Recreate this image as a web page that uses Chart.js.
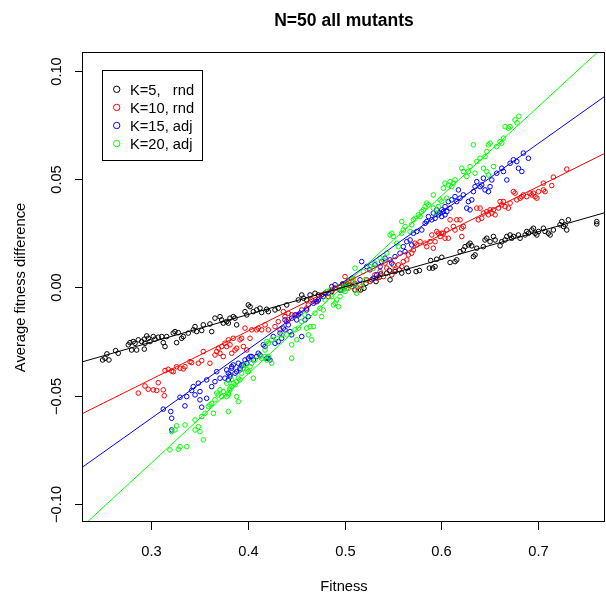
<!DOCTYPE html>
<html lang="en">
<head>
    <meta charset="UTF-8">
    <title>N=50 all mutants</title>
    <style>
        body { margin: 0; background: #fff; }
        canvas { display: block; }
    </style>
    <script src="https://cdn.jsdelivr.net/npm/chart.js@4.4.1/dist/chart.umd.min.js"></script>
</head>
<body>
    <canvas id="fitChart" width="606" height="599"></canvas>

    <script>
        // axis ranges and ticks
        const xMin = 0.2298, xMax = 0.7689;
        const yMin = -0.1083, yMax = 0.1082;
        const xTicks = [0.3, 0.4, 0.5, 0.6, 0.7];
        const xTickLabels = ['0.3', '0.4', '0.5', '0.6', '0.7'];
        const yTicks = [-0.10, -0.05, 0.00, 0.05, 0.10];
        const yTickLabels = ['\u22120.10', '\u22120.05', '0.00', '0.05', '0.10'];

        const seriesLabels = ['K=5,   rnd', 'K=10, rnd', 'K=15, adj', 'K=20, adj'];
        const seriesColors = ['#000000', '#ff0000', '#0000ff', '#00ff00'];

        // fitted lines y = a + b*x
        const fitIntercept = [-0.0636, -0.1093, -0.1557, -0.2047];
        const fitSlope = [0.1276, 0.2227, 0.3173, 0.4116];

        // [fitness, average fitness difference]
        const k5 = [
            [0.2500,-0.0335],[0.2525,-0.0327],[0.2566,-0.0335],[0.2545,-0.0307],[0.2635,-0.0292],[0.2662,-0.0304],
            [0.2766,-0.0265],[0.2783,-0.0255],[0.2817,-0.0250],[0.2835,-0.0258],[0.2800,-0.0289],[0.2852,-0.0289],
            [0.2869,-0.0242],[0.2904,-0.0250],[0.2931,-0.0239],[0.2938,-0.0258],[0.2956,-0.0224],[0.2972,-0.0235],
            [0.2990,-0.0250],[0.2931,-0.0285],[0.3024,-0.0227],[0.3041,-0.0239],[0.3075,-0.0230],[0.3111,-0.0227],
            [0.3127,-0.0255],[0.3145,-0.0273],[0.3162,-0.0227],[0.3230,-0.0211],[0.3248,-0.0204],[0.3282,-0.0209],
            [0.3265,-0.0255],[0.3317,-0.0235],[0.3334,-0.0227],[0.3385,-0.0211],[0.3437,-0.0196],[0.3455,-0.0181],
            [0.3472,-0.0204],[0.3524,-0.0199],[0.3540,-0.0173],[0.3609,-0.0169],[0.3627,-0.0204],[0.3661,-0.0142],
            [0.3713,-0.0135],[0.3730,-0.0150],[0.3747,-0.0165],[0.3782,-0.0158],[0.3816,-0.0142],[0.3850,-0.0135],
            [0.3799,-0.0165],[0.3868,-0.0142],[0.3885,-0.0173],[0.3971,-0.0112],[0.3989,-0.0127],[0.4005,-0.0081],
            [0.4023,-0.0089],[0.4057,-0.0112],[0.4092,-0.0104],[0.4126,-0.0096],[0.4143,-0.0116],[0.4195,-0.0101],
            [0.4212,-0.0112],[0.4281,-0.0104],[0.4315,-0.0096],[0.4402,-0.0081],[0.4522,-0.0058],[0.4557,-0.0035],
            [0.4574,-0.0050],[0.4608,-0.0058],[0.4643,-0.0035],[0.4694,-0.0027],[0.4728,-0.0035],[0.4780,-0.0042],
            [0.4798,-0.0027],[0.4867,-0.0019],[0.4901,-0.0004],[0.4953,-0.0012],[0.4987,0.0012],[0.5022,0.0019],
            [0.4980,0.0016],[0.5056,0.0012],[0.5107,-0.0012],[0.5166,-0.0012],[0.5200,-0.0004],[0.5221,0.0019],
            [0.5280,0.0035],[0.5324,0.0027],[0.5359,0.0047],[0.5373,0.0062],[0.5435,0.0066],[0.5469,0.0035],
            [0.5462,0.0078],[0.5521,0.0073],[0.5565,0.0081],[0.5590,0.0066],[0.5642,0.0089],[0.5658,0.0073],
            [0.5738,0.0073],[0.5772,0.0078],[0.5875,0.0089],[0.5910,0.0089],[0.5889,0.0124],[0.5951,0.0130],
            [0.6003,0.0139],[0.5934,0.0096],[0.6089,0.0115],[0.6140,0.0119],[0.6158,0.0127],[0.6192,0.0165],
            [0.6226,0.0173],[0.6244,0.0188],[0.6278,0.0196],[0.6295,0.0204],[0.6313,0.0192],[0.6330,0.0142],
            [0.6347,0.0150],[0.6365,0.0181],[0.6433,0.0188],[0.6450,0.0219],[0.6468,0.0227],[0.6502,0.0211],
            [0.6537,0.0235],[0.6554,0.0219],[0.6605,0.0192],[0.6623,0.0211],[0.6657,0.0219],[0.6675,0.0235],
            [0.6709,0.0242],[0.6726,0.0227],[0.6743,0.0235],[0.6795,0.0242],[0.6812,0.0227],[0.6864,0.0242],
            [0.6881,0.0258],[0.6898,0.0250],[0.6933,0.0265],[0.6950,0.0273],[0.6967,0.0250],[0.6985,0.0242],
            [0.7002,0.0258],[0.7053,0.0273],[0.7070,0.0258],[0.7104,0.0250],[0.7122,0.0242],[0.7156,0.0265],
            [0.7225,0.0289],[0.7243,0.0304],[0.7260,0.0281],[0.7277,0.0289],[0.7294,0.0265],[0.7311,0.0312],
            [0.7604,0.0304],[0.7604,0.0293]
        ];
        const k10 = [
            [0.2869,-0.0488],[0.2938,-0.0455],[0.2972,-0.0470],[0.3024,-0.0473],[0.3059,-0.0476],[0.3075,-0.0440],
            [0.3127,-0.0473],[0.3137,-0.0500],[0.3145,-0.0384],[0.3179,-0.0378],[0.3214,-0.0386],[0.3230,-0.0389],
            [0.3265,-0.0366],[0.3300,-0.0373],[0.3334,-0.0376],[0.3351,-0.0366],[0.3403,-0.0343],[0.3420,-0.0347],
            [0.3489,-0.0350],[0.3524,-0.0338],[0.3540,-0.0296],[0.3609,-0.0350],[0.3661,-0.0312],[0.3679,-0.0296],
            [0.3696,-0.0281],[0.3713,-0.0304],[0.3747,-0.0319],[0.3730,-0.0273],[0.3764,-0.0258],[0.3799,-0.0242],
            [0.3834,-0.0304],[0.3816,-0.0265],[0.3850,-0.0235],[0.3782,-0.0273],[0.3868,-0.0289],[0.3885,-0.0281],
            [0.3919,-0.0242],[0.3937,-0.0235],[0.3971,-0.0188],[0.3954,-0.0273],[0.3989,-0.0289],[0.4023,-0.0235],
            [0.4040,-0.0196],[0.4092,-0.0196],[0.4108,-0.0188],[0.4143,-0.0196],[0.4178,-0.0173],[0.4212,-0.0196],
            [0.4281,-0.0181],[0.4315,-0.0158],[0.4333,-0.0196],[0.4367,-0.0112],[0.4384,-0.0135],[0.4402,-0.0158],
            [0.4418,-0.0150],[0.4418,-0.0119],[0.4453,-0.0127],[0.4505,-0.0127],[0.4557,-0.0104],[0.4608,-0.0096],
            [0.4625,-0.0081],[0.4660,-0.0058],[0.4694,-0.0066],[0.4728,-0.0058],[0.4763,-0.0035],[0.4798,-0.0027],
            [0.4832,-0.0042],[0.4867,-0.0012],[0.4901,-0.0004],[0.4953,0.0004],[0.5004,0.0050],[0.5039,0.0027],
            [0.5074,0.0042],[0.5022,-0.0004],[0.5039,0.0012],[0.5074,0.0004],[0.5107,0.0019],[0.5142,-0.0012],
            [0.5159,0.0012],[0.5228,0.0035],[0.5262,0.0027],[0.5314,0.0058],[0.5332,0.0042],[0.5366,0.0073],
            [0.5400,0.0050],[0.5417,0.0112],[0.5435,0.0089],[0.5487,0.0058],[0.5503,0.0104],[0.5521,0.0081],
            [0.5555,0.0104],[0.5590,0.0096],[0.5606,0.0119],[0.5642,0.0127],[0.5658,0.0150],[0.5693,0.0158],
            [0.5710,0.0173],[0.5727,0.0204],[0.5745,0.0196],[0.5779,0.0211],[0.5831,0.0204],[0.5848,0.0188],
            [0.5882,0.0211],[0.5900,0.0242],[0.5951,0.0258],[0.5986,0.0235],[0.6020,0.0250],[0.6037,0.0227],
            [0.6055,0.0265],[0.5934,0.0211],[0.5916,0.0181],[0.5968,0.0250],[0.6003,0.0250],[0.6071,0.0227],
            [0.6089,0.0312],[0.6123,0.0281],[0.6140,0.0265],[0.6158,0.0312],[0.6192,0.0312],[0.6210,0.0235],
            [0.6210,0.0273],[0.6226,0.0281],[0.6365,0.0366],[0.6399,0.0366],[0.6381,0.0312],[0.6416,0.0319],
            [0.6433,0.0343],[0.6468,0.0350],[0.6485,0.0335],[0.6502,0.0358],[0.6520,0.0343],[0.6537,0.0358],
            [0.6554,0.0335],[0.6589,0.0366],[0.6605,0.0396],[0.6623,0.0381],[0.6640,0.0396],[0.6657,0.0373],
            [0.6691,0.0366],[0.6709,0.0389],[0.6743,0.0442],[0.6760,0.0435],[0.6778,0.0404],[0.6812,0.0412],
            [0.6830,0.0419],[0.6846,0.0427],[0.6881,0.0419],[0.6915,0.0435],[0.6933,0.0427],[0.6967,0.0419],
            [0.6985,0.0412],[0.7002,0.0442],[0.6950,0.0435],[0.7053,0.0481],[0.7053,0.0450],[0.7070,0.0442],
            [0.7139,0.0470],[0.7156,0.0509],[0.7294,0.0546]
        ];
        const k15 = [
            [0.3127,-0.0562],[0.3204,-0.0573],[0.3214,-0.0604],[0.3214,-0.0658],[0.3300,-0.0507],[0.3351,-0.0547],
            [0.3369,-0.0504],[0.3420,-0.0476],[0.3437,-0.0458],[0.3455,-0.0496],[0.3489,-0.0442],[0.3506,-0.0481],
            [0.3524,-0.0553],[0.3506,-0.0519],[0.3575,-0.0427],[0.3575,-0.0512],[0.3627,-0.0458],[0.3661,-0.0435],
            [0.3679,-0.0389],[0.3713,-0.0419],[0.3764,-0.0419],[0.3799,-0.0427],[0.3816,-0.0404],[0.3834,-0.0373],
            [0.3850,-0.0358],[0.3885,-0.0389],[0.3919,-0.0381],[0.3937,-0.0358],[0.3989,-0.0350],[0.4023,-0.0319],
            [0.4057,-0.0335],[0.4092,-0.0319],[0.4126,-0.0312],[0.4160,-0.0265],[0.4195,-0.0327],[0.4229,-0.0335],
            [0.4263,-0.0227],[0.4281,-0.0258],[0.4333,-0.0211],[0.4367,-0.0188],[0.4384,-0.0150],[0.4418,-0.0173],
            [0.4453,-0.0142],[0.4488,-0.0127],[0.4505,-0.0150],[0.4557,-0.0227],[0.4539,-0.0119],[0.4608,-0.0104],
            [0.4677,-0.0073],[0.4712,-0.0066],[0.3782,-0.0381],[0.3799,-0.0396],[0.3816,-0.0412],[0.3834,-0.0366],
            [0.3868,-0.0396],[0.3902,-0.0350],[0.3919,-0.0373],[0.3954,-0.0358],[0.3971,-0.0335],[0.4005,-0.0327],
            [0.4040,-0.0319],[0.4108,-0.0304],[0.4178,-0.0273],[0.4212,-0.0327],[0.4315,-0.0250],[0.4350,-0.0235],
            [0.4384,-0.0196],[0.4436,-0.0204],[0.4453,-0.0219],[0.4522,-0.0127],[0.4591,-0.0150],[0.4625,-0.0135],
            [0.4728,-0.0058],[0.4780,-0.0042],[0.4832,-0.0027],[0.4867,0.0004],[0.4901,0.0012],[0.4970,-0.0012],
            [0.5004,0.0004],[0.5022,0.0019],[0.5107,0.0012],[0.5159,0.0035],[0.5176,0.0119],[0.5228,0.0096],
            [0.5262,0.0081],[0.5296,0.0042],[0.5314,0.0104],[0.5332,0.0058],[0.5366,0.0096],[0.5383,0.0119],
            [0.5417,0.0135],[0.5469,0.0127],[0.5487,0.0112],[0.5521,0.0142],[0.5572,0.0158],[0.5606,0.0188],
            [0.5624,0.0165],[0.5642,0.0211],[0.5676,0.0219],[0.5693,0.0196],[0.5710,0.0250],[0.5745,0.0258],
            [0.5797,0.0265],[0.5831,0.0296],[0.5848,0.0304],[0.5865,0.0327],[0.5900,0.0312],[0.5916,0.0343],
            [0.5934,0.0319],[0.5986,0.0343],[0.6003,0.0358],[0.6037,0.0335],[0.6055,0.0350],[0.5951,0.0358],
            [0.5968,0.0335],[0.6003,0.0327],[0.6020,0.0350],[0.6037,0.0373],[0.6071,0.0396],[0.6089,0.0366],
            [0.6106,0.0404],[0.6140,0.0419],[0.6158,0.0396],[0.6175,0.0450],[0.6192,0.0412],[0.6226,0.0427],
            [0.6261,0.0366],[0.6278,0.0396],[0.6295,0.0358],[0.6313,0.0404],[0.6330,0.0442],[0.6347,0.0465],
            [0.6365,0.0488],[0.6399,0.0465],[0.6416,0.0473],[0.6433,0.0504],[0.6450,0.0450],[0.6485,0.0442],
            [0.6502,0.0465],[0.6520,0.0496],[0.6571,0.0527],[0.6623,0.0550],[0.6640,0.0535],[0.6675,0.0496],
            [0.6709,0.0573],[0.6743,0.0589],[0.6778,0.0581],[0.6795,0.0550],[0.6830,0.0535],[0.6846,0.0620],
            [0.6898,0.0596]
        ];
        const k20 = [
            [0.3196,-0.0750],[0.3282,-0.0747],[0.3300,-0.0735],[0.3369,-0.0735],[0.3214,-0.0666],[0.3248,-0.0658],
            [0.3351,-0.0635],[0.3265,-0.0639],[0.3455,-0.0612],[0.3455,-0.0658],[0.3489,-0.0643],[0.3506,-0.0666],
            [0.3524,-0.0596],[0.3540,-0.0704],[0.3558,-0.0581],[0.3592,-0.0550],[0.3609,-0.0542],[0.3627,-0.0535],
            [0.3644,-0.0581],[0.3661,-0.0519],[0.3679,-0.0488],[0.3696,-0.0496],[0.3713,-0.0473],[0.3730,-0.0504],
            [0.3747,-0.0481],[0.3782,-0.0442],[0.3799,-0.0496],[0.3816,-0.0473],[0.3834,-0.0427],[0.3782,-0.0504],
            [0.3799,-0.0488],[0.3816,-0.0465],[0.3834,-0.0458],[0.3850,-0.0442],[0.3868,-0.0450],[0.3885,-0.0435],
            [0.3902,-0.0419],[0.3919,-0.0427],[0.3885,-0.0504],[0.3902,-0.0527],[0.3799,-0.0573],[0.3937,-0.0396],
            [0.3954,-0.0373],[0.3971,-0.0358],[0.3989,-0.0381],[0.4005,-0.0389],[0.4023,-0.0366],[0.4057,-0.0419],
            [0.4040,-0.0350],[0.4074,-0.0335],[0.4126,-0.0319],[0.4143,-0.0327],[0.4178,-0.0319],[0.4195,-0.0335],
            [0.4212,-0.0319],[0.4247,-0.0350],[0.4178,-0.0289],[0.4195,-0.0250],[0.4212,-0.0258],[0.4247,-0.0242],
            [0.4299,-0.0235],[0.4350,-0.0219],[0.4402,-0.0219],[0.4453,-0.0327],[0.4453,-0.0265],[0.4488,-0.0196],
            [0.4505,-0.0242],[0.4522,-0.0188],[0.4557,-0.0158],[0.4591,-0.0127],[0.4608,-0.0188],[0.4625,-0.0219],
            [0.4643,-0.0181],[0.4660,-0.0242],[0.4677,-0.0181],[0.4694,-0.0119],[0.4746,-0.0096],[0.4763,-0.0135],
            [0.4780,-0.0104],[0.4798,-0.0058],[0.4815,-0.0019],[0.4849,-0.0012],[0.4867,-0.0042],[0.4884,-0.0081],
            [0.4901,-0.0073],[0.4918,-0.0058],[0.4936,-0.0089],[0.4953,-0.0042],[0.4953,0.0004],[0.4987,-0.0012],
            [0.5022,0.0019],[0.5056,0.0035],[0.5090,0.0042],[0.5107,0.0089],[0.4970,-0.0012],[0.5004,-0.0019],
            [0.5039,-0.0004],[0.5107,0.0012],[0.5125,-0.0027],[0.5176,0.0004],[0.5211,0.0035],[0.5193,0.0073],
            [0.5262,0.0096],[0.5296,0.0089],[0.5314,0.0112],[0.5366,0.0135],[0.5400,0.0127],[0.5435,0.0158],
            [0.5469,0.0242],[0.5487,0.0250],[0.5503,0.0235],[0.5538,0.0204],[0.5555,0.0188],[0.5590,0.0250],
            [0.5590,0.0304],[0.5606,0.0265],[0.5624,0.0281],[0.5676,0.0258],[0.5693,0.0289],[0.5710,0.0312],
            [0.5727,0.0319],[0.5762,0.0335],[0.5779,0.0327],[0.5797,0.0350],[0.5813,0.0358],[0.5831,0.0373],
            [0.5848,0.0389],[0.5865,0.0381],[0.5916,0.0366],[0.5986,0.0404],[0.5916,0.0427],[0.5951,0.0343],
            [0.5968,0.0373],[0.6003,0.0396],[0.6020,0.0458],[0.6037,0.0481],[0.6055,0.0412],[0.6071,0.0473],
            [0.6089,0.0488],[0.6106,0.0465],[0.6123,0.0481],[0.6140,0.0496],[0.6210,0.0550],[0.6226,0.0535],
            [0.6261,0.0512],[0.6278,0.0535],[0.6295,0.0558],[0.6347,0.0527],[0.6365,0.0581],[0.6399,0.0596],
            [0.6433,0.0550],[0.6468,0.0535],[0.6485,0.0519],[0.6450,0.0604],[0.6468,0.0627],[0.6485,0.0658],
            [0.6502,0.0666],[0.6537,0.0558],[0.6571,0.0650],[0.6605,0.0673],[0.6623,0.0666],[0.6640,0.0689],
            [0.6657,0.0742],[0.6691,0.0735],[0.6709,0.0742],[0.6760,0.0773],[0.6330,0.0658],[0.6780,0.0760],
            [0.6800,0.0790]
        ];
        const seriesData = [k5, k10, k15, k20];

        const tickFont = '14.7px "Liberation Sans", Arial, sans-serif';

        // R-style box, axes, titles and legend
        const rStyle = {
            id: 'rStyle',
            afterDraw(chart) {
                const { ctx, chartArea: a, scales: { x, y } } = chart;
                ctx.save();
                ctx.strokeStyle = '#000';
                ctx.fillStyle = '#000';
                ctx.lineWidth = 1;
                ctx.strokeRect(a.left - 0.5, a.top - 0.5, a.right - a.left, a.bottom - a.top);

                ctx.font = tickFont;
                ctx.textAlign = 'center';
                ctx.textBaseline = 'alphabetic';
                xTicks.forEach((v, i) => {
                    const px = Math.round(x.getPixelForValue(v)) + 0.5;
                    ctx.beginPath();
                    ctx.moveTo(px, a.bottom);
                    ctx.lineTo(px, a.bottom + 8);
                    ctx.stroke();
                    ctx.fillText(xTickLabels[i], px, 555.5);
                });
                yTicks.forEach((v, i) => {
                    const py = Math.round(y.getPixelForValue(v)) + 0.5;
                    ctx.beginPath();
                    ctx.moveTo(a.left - 8, py);
                    ctx.lineTo(a.left, py);
                    ctx.stroke();
                    ctx.save();
                    ctx.translate(60.5, py);
                    ctx.rotate(-Math.PI / 2);
                    ctx.fillText(yTickLabels[i], 0, 0);
                    ctx.restore();
                });

                const cx = (a.left + a.right) / 2;
                const cy = (a.top + a.bottom) / 2;
                ctx.fillText('Fitness', cx, 591);
                ctx.save();
                ctx.translate(25, cy);
                ctx.rotate(-Math.PI / 2);
                ctx.fillText('Average fitness difference', 0, 0);
                ctx.restore();

                ctx.font = 'bold 17.5px "Liberation Sans", Arial, sans-serif';
                ctx.fillText('N=50 all mutants', cx, 26);

                // legend
                ctx.strokeRect(102.5, 70.5, 100, 90);
                ctx.font = tickFont;
                ctx.textAlign = 'left';
                seriesLabels.forEach((lab, i) => {
                    const ry = 89.3 + i * 18.1;
                    ctx.strokeStyle = seriesColors[i];
                    ctx.beginPath();
                    ctx.arc(116.7, ry, 3.2, 0, Math.PI * 2);
                    ctx.stroke();
                    ctx.fillStyle = '#000';
                    ctx.fillText(lab, 130, ry + 5.3);
                });
                ctx.restore();
            }
        };

        const datasets = [];
        seriesData.forEach((pts, i) => {
            datasets.push({
                label: seriesLabels[i],
                data: pts.map(p => ({ x: p[0], y: p[1] })),
                showLine: false,
                borderColor: seriesColors[i],
                backgroundColor: 'rgba(0,0,0,0)',
                pointRadius: 2.3,
                pointBorderWidth: 1,
                order: 4 - i
            });
        });
        seriesData.forEach((pts, i) => {
            datasets.push({
                label: seriesLabels[i] + ' fit',
                data: [xMin, xMax].map(v => ({ x: v, y: fitIntercept[i] + fitSlope[i] * v })),
                showLine: true,
                fill: false,
                borderColor: seriesColors[i],
                borderWidth: 1,
                pointRadius: 0,
                order: 0
            });
        });

        new Chart(document.getElementById('fitChart').getContext('2d'), {
            type: 'scatter',
            data: { datasets },
            options: {
                responsive: false,
                animation: false,
                devicePixelRatio: 1,
                events: [],
                layout: { autoPadding: false, padding: { left: 83, right: 1, top: 53, bottom: 77 } },
                scales: {
                    x: { type: 'linear', display: false, min: xMin, max: xMax },
                    y: { type: 'linear', display: false, min: yMin, max: yMax }
                },
                plugins: {
                    legend: { display: false },
                    tooltip: { enabled: false }
                }
            },
            plugins: [rStyle]
        });
    </script>
</body>
</html>
